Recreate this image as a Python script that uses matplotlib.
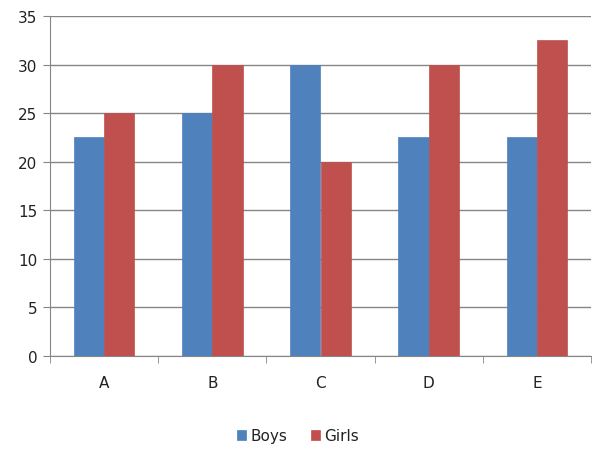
import numpy as np
import matplotlib.pyplot as plt

categories = ["A", "B", "C", "D", "E"]
boys = [22.5, 25, 30, 22.5, 22.5]
girls = [25, 30, 20, 30, 32.5]

blue = "#4F81BD"
red = "#C0504D"
grid = "#868686"

fig = plt.figure(figsize=(5.96, 4.52), dpi=100)
ax = fig.add_axes([50 / 596, 1 - 357 / 452, 541 / 596, 340 / 452])

x = np.arange(len(categories))
w = 0.28
ax.bar(x - w / 2, boys, w, color=blue, edgecolor=blue, linewidth=0.5, label="Boys", zorder=3)
ax.bar(x + w / 2, girls, w, color=red, edgecolor=red, linewidth=0.5, label="Girls", zorder=3)

ax.set_xlim(-0.5, len(categories) - 0.5)
ax.set_ylim(0, 35)
ax.set_yticks(range(0, 36, 5))
ax.yaxis.grid(True, color=grid, linewidth=1, zorder=0)

ax.set_xticks(x)
ax.set_xticklabels(categories)
ax.set_xticks(np.arange(-0.5, len(categories)), minor=True)
ax.tick_params(axis="x", which="major", length=0, pad=14, labelsize=11, labelcolor="#222222")
ax.tick_params(axis="x", which="minor", length=5, color=grid, direction="out")
ax.tick_params(axis="y", length=5, color=grid, labelsize=11, pad=4, labelcolor="#222222")

for s in ["top", "right"]:
    ax.spines[s].set_visible(False)
for s in ["left", "bottom"]:
    ax.spines[s].set_color(grid)

fig.legend(loc="center", bbox_to_anchor=(0.5, 1 - 437 / 452), ncol=2, frameon=False,
           fontsize=11, handlelength=0.6, handleheight=0.6, handletextpad=0.3,
           columnspacing=1.5, labelcolor="#222222")

fig.savefig("out.png", dpi=100)
